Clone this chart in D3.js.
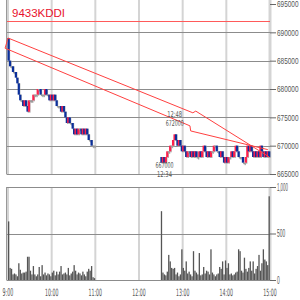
<!DOCTYPE html>
<html>
<head>
<meta charset="utf-8">
<script src="https://cdn.jsdelivr.net/npm/d3@7"></script>
<style>
    body { margin: 0; background: #fff; }
    svg { display: block; font-family: "Liberation Sans Narrow", "DejaVu Sans Condensed", sans-serif; }
    .axis-label { fill: #555; font-size: 10px; }
    .note-label { fill: #555; font-size: 8px; }
</style>
</head>
<body>
<div id="chart"></div>
<script>
// ---- data (prices in yen, volume in trading units) ----
const title = "9433KDDI";
const prevClose = 692000;

// 2-minute bars, morning session 9:00-11:00 (prices in 1000 yen)
const amOpen = 689;
const amClose = [685, 684, 684, 683, 683, 682, 681, 679, 678, 678,
                 677, 678, 677, 676, 678, 678, 678, 679, 679, 679,
                 680, 680, 679, 679, 679, 680, 679, 679, 678, 679,
                 678, 679, 678, 677, 677, 677, 676, 677, 676, 675,
                 674, 675, 674, 674, 673, 672, 673, 672, 673, 673,
                 672, 673, 672, 673, 672, 671, 671, 670, 670, 670];
const amVolume = [630, 130, 120, 60, 70, 60, 40, 180, 110, 70,
                  80, 80, 90, 250, 250, 100, 60, 150, 60, 40,
                  60, 140, 40, 160, 60, 80, 50, 70, 60, 40,
                  80, 100, 50, 90, 60, 90, 150, 60, 70, 80,
                  60, 130, 50, 70, 90, 160, 100, 60, 80, 70,
                  50, 90, 60, 40, 90, 120, 100, 150, 30, 20];

// 2-minute bars, afternoon session 12:30-15:00
const pmOpen = 668;
const pmClose = [667, 668, 667, 668, 669, 669, 670, 670, 671, 672,
                 671, 670, 671, 670, 669, 670, 669, 668, 669, 669,
                 668, 669, 668, 669, 668, 668, 669, 668, 669, 670,
                 669, 668, 669, 668, 669, 669, 670, 670, 669, 669,
                 668, 669, 668, 667, 668, 667, 668, 668, 669, 668,
                 669, 670, 669, 668, 668, 668, 667, 667, 668, 670,
                 669, 670, 669, 668, 669, 668, 669, 668, 670, 669,
                 668, 669, 668, 669, 668];
const pmVolume = [740, 80, 60, 50, 90, 270, 200, 130, 120, 130,
                  60, 80, 40, 60, 330, 130, 100, 200, 70, 90,
                  60, 40, 310, 100, 80, 60, 290, 50, 60, 140,
                  70, 100, 90, 60, 330, 80, 60, 40, 60, 70,
                  140, 120, 200, 60, 210, 130, 180, 60, 70, 50,
                  60, 80, 90, 330, 310, 100, 80, 240, 120, 90,
                  130, 200, 100, 200, 70, 120, 150, 270, 100, 180,
                  330, 220, 200, 160, 900];

// axis ticks
const priceTicks = [665000, 670000, 675000, 680000, 685000, 690000, 695000];
const volumeTicks = [0, 500, 1000];
const timeTicks = [0, 60, 120, 180, 240, 300, 360];   // minutes after 9:00
const timeLabels = ["9:00", "10:00", "11:00", "12:00", "13:00", "14:00", "15:00"];

// hand drawn trend lines [minutes after 9:00, price]
const upperLine = [[0, 689000], [254, 675800], [258, 676100], [359, 668000]];
const lowerLine = [[-4, 687200], [250, 673500], [251, 672600], [357, 669300]];

// high / low notes of the afternoon
const highNote = {minute: 229, price: 672000, time: "12:48"};
const lowNote = {minute: 215, price: 667000, time: "12:34"};


// squeeze a text horizontally so it is `w` px wide, keeping its anchor
function squeeze(sel, w, anchor) {
    sel.each(function() {
        let t = d3.select(this);
        let len = this.getComputedTextLength();
        let x = +t.attr("x") || 0;
        let k = Math.min(1, w / len);
        t.attr("x", 0).attr("transform", "translate(" + x + ",0) scale(" + k + ",1)")
            .attr("text-anchor", anchor);
    });
}

class IntradayVis {

    constructor(parentElement) {
        this.parentElement = parentElement;
        this.initVis();
    }

    initVis() {
        let vis = this;

        vis.width = 300;
        vis.height = 300;

        vis.svg = d3.select("#" + vis.parentElement).append("svg")
            .attr("width", vis.width)
            .attr("height", vis.height);

        // scales
        vis.x = d3.scaleLinear().domain([0, 360]).range([8, 270]);
        vis.y = d3.scaleLinear().domain([665000, 695000]).range([174, 4]);
        vis.yVol = d3.scaleLinear().domain([0, 1000]).range([280, 187]);

        vis.wrangleData();
    }

    wrangleData() {
        let vis = this;

        // turn the close lists into bars with start minute
        vis.bars = [];
        let prev = amOpen;
        amClose.forEach((c, i) => {
            vis.bars.push({t: i * 2, open: prev * 1000, close: c * 1000, vol: amVolume[i]});
            prev = c;
        });
        prev = pmOpen;
        pmClose.forEach((c, i) => {
            vis.bars.push({t: 210 + i * 2, open: prev * 1000, close: c * 1000, vol: pmVolume[i]});
            prev = c;
        });

        vis.updateVis();
    }

    updateVis() {
        let vis = this;
        let x0 = 7, x1 = 270;

        // vertical grid (light grey), both panels
        [[0, 174], [187, 280]].forEach(r => {
            vis.svg.append("g").selectAll("line")
                .data(timeTicks)
                .join("line")
                .attr("x1", d => vis.x(d)).attr("x2", d => vis.x(d))
                .attr("y1", r[0]).attr("y2", r[1])
                .attr("stroke", "#d4d4d4")
                .attr("stroke-width", d => d === 360 ? 3 : 2);
        });

        // left borders
        vis.svg.append("line").attr("x1", 6.5).attr("x2", 6.5).attr("y1", 0).attr("y2", 174.5)
            .attr("stroke", "#999");
        vis.svg.append("line").attr("x1", 6.5).attr("x2", 6.5).attr("y1", 187).attr("y2", 280.5)
            .attr("stroke", "#999");

        // horizontal grid (dark grey)
        vis.svg.append("g").selectAll("line")
            .data(priceTicks.filter(d => d < 695000))
            .join("line")
            .attr("x1", x0).attr("x2", x1)
            .attr("y1", d => Math.round(vis.y(d)) + 0.5).attr("y2", d => Math.round(vis.y(d)) + 0.5)
            .attr("stroke", "#8c8c8c");
        vis.svg.append("g").selectAll("line")
            .data(volumeTicks)
            .join("line")
            .attr("x1", x0).attr("x2", x1)
            .attr("y1", d => Math.round(vis.yVol(d)) + 0.5).attr("y2", d => Math.round(vis.yVol(d)) + 0.5)
            .attr("stroke", "#8c8c8c");

        // previous close line
        vis.svg.append("line")
            .attr("x1", x0).attr("x2", x1)
            .attr("y1", Math.round(vis.y(prevClose)) + 0.5).attr("y2", Math.round(vis.y(prevClose)) + 0.5)
            .attr("stroke", "#ff5a5a");

        // title
        vis.svg.append("text")
            .attr("x", 12).attr("y", 17)
            .attr("fill", "#e8112d")
            .style("font-family", "'Liberation Sans', Arial, sans-serif")
            .style("font-size", "11.5px")
            .text(title);

        // volume bars
        vis.svg.append("g").selectAll("rect")
            .data(vis.bars)
            .join("rect")
            .attr("x", d => vis.x(d.t))
            .attr("width", 1.3)
            .attr("y", d => vis.yVol(d.vol))
            .attr("height", d => vis.yVol(0) - vis.yVol(d.vol))
            .attr("fill", "#555");

        // candles: grey shadow, then coloured body
        let color = d => d.close > d.open ? "#ff1f4b" : (d.close < d.open ? "#0a2f9c" : "#9a9a9a");
        vis.svg.append("g").selectAll("rect")
            .data(vis.bars)
            .join("rect")
            .attr("x", d => vis.x(d.t + 1))
            .attr("width", 1.4)
            .attr("y", d => vis.y(Math.max(d.open, d.close)))
            .attr("height", d => Math.max(2.5, Math.abs(vis.y(d.open) - vis.y(d.close)) + 1))
            .attr("fill", "#aaa");
        vis.svg.append("g").selectAll("rect")
            .data(vis.bars)
            .join("rect")
            .attr("x", d => vis.x(d.t) - 0.5)
            .attr("width", 2.2)
            .attr("y", d => vis.y(Math.max(d.open, d.close)))
            .attr("height", d => Math.max(1.5, Math.abs(vis.y(d.open) - vis.y(d.close))))
            .attr("fill", color);

        // trend lines
        let line = d3.line().x(d => vis.x(d[0])).y(d => vis.y(d[1]));
        [upperLine, lowerLine, [upperLine[0], lowerLine[0]]].forEach(l => {
            vis.svg.append("path")
                .attr("d", line(l))
                .attr("fill", "none")
                .attr("stroke", "#ff4040")
                .attr("stroke-width", 1);
        });

        // price axis on the right
        let yAxis = d3.axisRight(vis.y).tickValues(priceTicks).tickSize(6).tickPadding(1)
            .tickFormat(d3.format("d"));
        let gy = vis.svg.append("g").attr("transform", "translate(270,0)").call(yAxis);
        gy.select(".domain").remove();
        gy.selectAll(".tick line").attr("stroke", "#666");
        gy.selectAll(".tick text").attr("class", "axis-label").attr("font-family", null)
            .attr("font-size", null).style("font-size", "9px")
            .call(squeeze, 21.5, "start");

        let volAxis = d3.axisRight(vis.yVol).tickValues(volumeTicks).tickSize(6).tickPadding(1);
        let gv = vis.svg.append("g").attr("transform", "translate(270,0)").call(volAxis);
        gv.select(".domain").remove();
        gv.selectAll(".tick line").attr("stroke", "#666");
        gv.selectAll(".tick text").attr("class", "axis-label").attr("font-family", null)
            .attr("font-size", null)
            .each(function(d) { squeeze(d3.select(this), String(d).length * 2.7, "start"); });

        // time labels
        vis.svg.append("g").selectAll("text")
            .data(timeTicks)
            .join("text")
            .attr("class", "axis-label")
            .attr("x", d => vis.x(d))
            .attr("y", 296)
            .text((d, i) => timeLabels[i])
            .each(function(d, i) { squeeze(d3.select(this), timeLabels[i].length * 2.7, "middle"); });

        // high / low notes
        let notes = [
            {n: highNote, lines: [highNote.time, String(highNote.price)], dy: [-17, -8]},
            {n: lowNote, lines: [String(lowNote.price), lowNote.time], dy: [5, 14]}
        ];
        notes.forEach(o => {
            o.lines.forEach((s, k) => {
                vis.svg.append("text")
                    .attr("class", "note-label")
                    .attr("x", vis.x(o.n.minute))
                    .attr("y", vis.y(o.n.price) + o.dy[k])
                    .text(s)
                    .call(squeeze, s.length * 3, "middle");
            });
        });
    }
}

new IntradayVis("chart");
</script>
</body>
</html>
